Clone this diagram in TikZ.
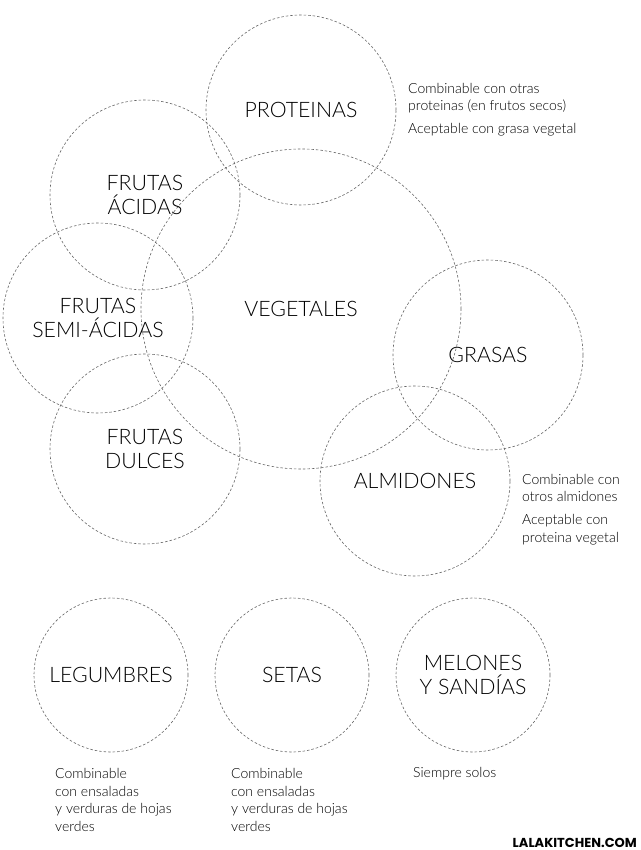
\documentclass[tikz,border=0pt]{standalone}
\usepackage{fontspec}
\setmainfont{Lato}[UprightFont=* Light]
\newfontfamily\logofont{Poppins}[UprightFont=* Bold]

\begin{document}
\begin{tikzpicture}[x=1pt,y=-1pt,
    grupo/.style={circle,draw=black!60,dash pattern=on 2.5pt off 2pt,line width=0.6pt,
      inner sep=0pt,minimum size=190pt,align=center,font=\fontsize{21.3}{24.5}\selectfont},
    grupochico/.style={grupo,minimum size=154pt},
    nota/.style={anchor=base west,align=left,inner sep=0pt,font=\fontsize{14}{17.5}\selectfont}]
  \useasboundingbox (0,0) rectangle (640,850);
  % ============ GRUPOS QUE SE MEZCLAN ============
  \node[grupo,minimum size=320pt] (vegetales) at (301,309) {VEGETALES};
  \node[grupo] (proteinas) at (301,110) {PROTEINAS};
  \node[grupo] (acidas) at (145,195) {FRUTAS\\ÁCIDAS};
  \node[grupo] (semiacidas) at (98,318) {FRUTAS\\SEMI-ÁCIDAS};
  \node[grupo] (dulces) at (145,449) {FRUTAS\\DULCES};
  \node[grupo] (grasas) at (488,355) {GRASAS};
  \node[grupo] (almidones) at (415,481) {ALMIDONES};
  % notas al lado (base = ultima linea)
  \node[nota] (notaprot) at (408,134) {Combinable con otras\\proteinas (en frutos secos)\\[5.5pt]Aceptable con grasa vegetal};
  \node[nota] (notaalm) at (522,542) {Combinable con\\otros almidones\\[5.5pt]Aceptable con\\proteina vegetal};
  % ============ GRUPOS APARTE ============
  \node[grupochico] (legumbres) at (111,675) {LEGUMBRES};
  \node[grupochico] (setas) at (292,675) {SETAS};
  \node[grupochico] (melones) at (473,675) {MELONES\\Y SANDÍAS};
  \node[nota] (notaleg) at (55,831) {Combinable\\con ensaladas\\y verduras de hojas\\verdes};
  \node[nota] (notasetas) at (231,831) {Combinable\\con ensaladas\\y verduras de hojas\\verdes};
  \node[nota] (notamel) at (413,777) {Siempre solos};
  % firma
  \node[anchor=base east,inner sep=0pt,font=\logofont\fontsize{13}{13}\selectfont] (firma) at (637,847) {LALAKITCHEN.COM};
\end{tikzpicture}
\end{document}
